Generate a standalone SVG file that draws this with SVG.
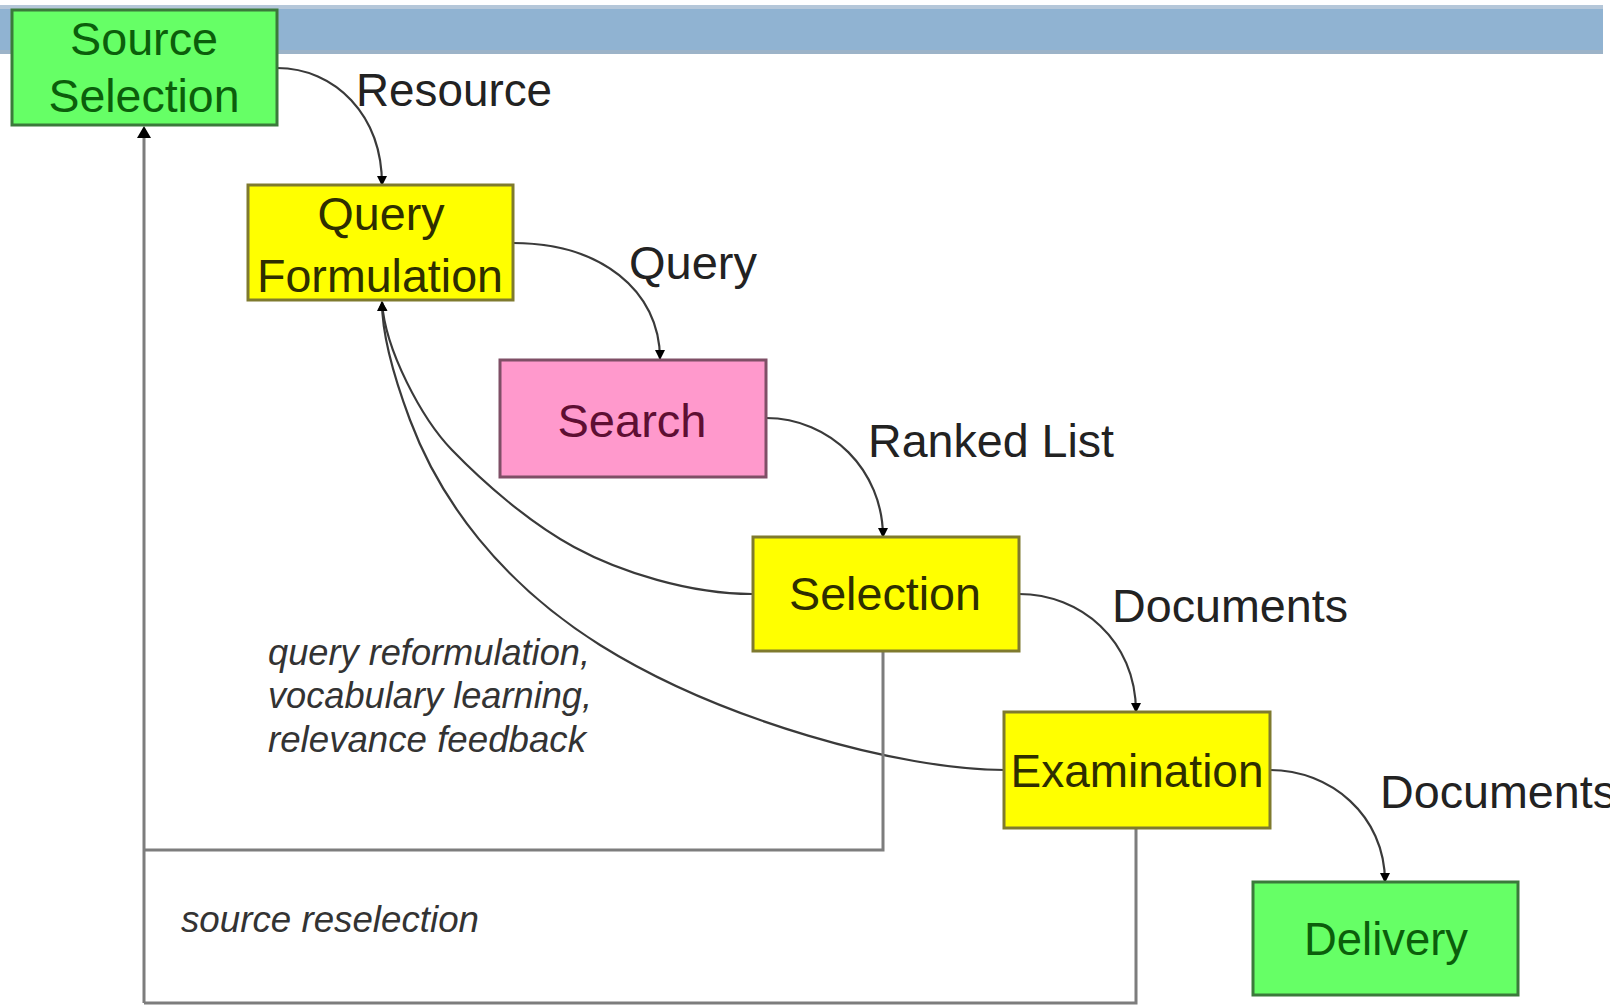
<svg xmlns="http://www.w3.org/2000/svg" width="1610" height="1005" viewBox="0 0 1610 1005">
<style>
  .node rect { stroke-width: 3; }
  .green rect { fill: #66ff66; stroke: #3b7a3b; }
  .green text { fill: #0b5e0b; }
  .yellow rect { fill: #ffff00; stroke: #7f7a2e; }
  .yellow text { fill: #2e2e00; }
  .pink rect { fill: #ff99cc; stroke: #7f4f66; }
  .pink text { fill: #5e0f33; }
  text { font-family: "Liberation Sans", Arial, sans-serif; font-size: 46px; }
  .lbl { fill: #222222; }
  .note { font-style: italic; font-size: 37px; fill: #333333; }
  .flow { fill: none; stroke: #3a3a3a; stroke-width: 2.2; marker-end: url(#arr); }
  .back { fill: none; stroke: #7d7d7d; stroke-width: 3; }
</style>
<defs>
  <marker id="arr" viewBox="0 0 10 10" refX="9" refY="5" markerWidth="10" markerHeight="10" markerUnits="userSpaceOnUse" orient="auto">
    <path d="M0,0 L10,5 L0,10 z" fill="#000000"/>
  </marker>
</defs>
<rect x="0" y="0" width="1610" height="1005" fill="#ffffff"/>
<rect x="0" y="5" width="1603" height="49" fill="#90b3d2"/>
<rect x="0" y="5" width="1603" height="4" fill="#b5c7d9"/>
<rect x="0" y="50" width="1603" height="4" fill="#9cb3c8"/>

<g id="connectors">
  <path class="flow" d="M277,68 C335,68 382,115 382,185"/>
  <path class="flow" d="M513,243 C600,243 660,290 660,359"/>
  <path class="flow" d="M766,418 C830,418 883,470 883,537"/>
  <path class="flow" d="M1019,594 C1080,594 1136,640 1136,712"/>
  <path class="flow" d="M1270,770 C1330,770 1385,815 1385,882"/>
  <path class="flow" d="M752,594 C690,594 620,572 574,547 C528,522 482,481 452,450 C422,419 385,350 382,302"/>
  <path class="flow" d="M1005,770 C900,770 720,720 600,645 C500,582 440,500 410,420 C392,372 382,330 382,302"/>
  <path class="back" d="M883,651 L883,850 L144,850"/>
  <path class="back" d="M1136,828 L1136,1003 L144,1003"/>
  <path class="back" d="M144,1003 L144,136"/>
  <path d="M137,138 L144,126 L151,138 z" fill="#000000"/>
</g>

<g id="source-selection" class="node green">
  <rect x="12" y="10" width="265" height="115"/>
  <text x="144" y="55" text-anchor="middle" textLength="148" lengthAdjust="spacingAndGlyphs">Source</text>
  <text x="144" y="112" text-anchor="middle" textLength="191" lengthAdjust="spacingAndGlyphs">Selection</text>
</g>
<g id="query-formulation" class="node yellow">
  <rect x="248" y="185" width="265" height="115"/>
  <text x="381" y="230" text-anchor="middle" textLength="127" lengthAdjust="spacingAndGlyphs">Query</text>
  <text x="380" y="292" text-anchor="middle" textLength="246" lengthAdjust="spacingAndGlyphs">Formulation</text>
</g>
<g id="search" class="node pink">
  <rect x="500" y="360" width="266" height="117"/>
  <text x="632" y="437" text-anchor="middle" textLength="149" lengthAdjust="spacingAndGlyphs">Search</text>
</g>
<g id="selection" class="node yellow">
  <rect x="753" y="537" width="266" height="114"/>
  <text x="885" y="610" text-anchor="middle" textLength="192" lengthAdjust="spacingAndGlyphs">Selection</text>
</g>
<g id="examination" class="node yellow">
  <rect x="1004" y="712" width="266" height="116"/>
  <text x="1137" y="787" text-anchor="middle" textLength="253" lengthAdjust="spacingAndGlyphs">Examination</text>
</g>
<g id="delivery" class="node green">
  <rect x="1253" y="882" width="265" height="113"/>
  <text x="1386" y="955" text-anchor="middle" textLength="164" lengthAdjust="spacingAndGlyphs">Delivery</text>
</g>

<g id="labels">
  <text class="lbl" x="356" y="106" textLength="196" lengthAdjust="spacingAndGlyphs">Resource</text>
  <text class="lbl" x="629" y="279" textLength="128" lengthAdjust="spacingAndGlyphs">Query</text>
  <text class="lbl" x="868" y="457" textLength="246" lengthAdjust="spacingAndGlyphs">Ranked List</text>
  <text class="lbl" x="1112" y="622" textLength="236" lengthAdjust="spacingAndGlyphs">Documents</text>
  <text class="lbl" x="1380" y="808" textLength="236" lengthAdjust="spacingAndGlyphs">Documents</text>
  <text class="note" x="268" y="665" textLength="322" lengthAdjust="spacingAndGlyphs">query reformulation,</text>
  <text class="note" x="268" y="708" textLength="324" lengthAdjust="spacingAndGlyphs">vocabulary learning,</text>
  <text class="note" x="268" y="752" textLength="318" lengthAdjust="spacingAndGlyphs">relevance feedback</text>
  <text class="note" x="181" y="932" textLength="298" lengthAdjust="spacingAndGlyphs">source reselection</text>
</g>
</svg>
